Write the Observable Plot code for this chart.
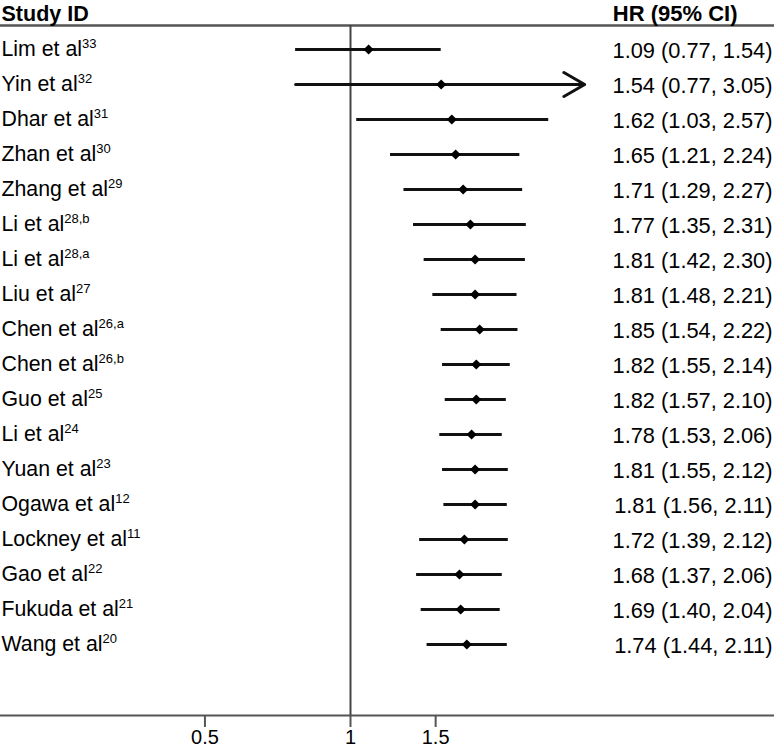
<!DOCTYPE html>
<html>
<head>
<meta charset="utf-8">
<script src="https://cdn.jsdelivr.net/npm/d3@7"></script>
<script src="https://cdn.jsdelivr.net/npm/@observablehq/plot@0.6"></script>
<style>
  html, body { margin: 0; padding: 0; background: #fff; }
  #chart svg { display: block; }
</style>
</head>
<body>
<div id="chart"></div>
<script>
// ---- data ----
const studyNames = ["Lim et al","Yin et al","Dhar et al","Zhan et al","Zhang et al","Li et al","Li et al","Liu et al","Chen et al","Chen et al","Guo et al","Li et al","Yuan et al","Ogawa et al","Lockney et al","Gao et al","Fukuda et al","Wang et al"];
const refs = ["33","32","31","30","29","28,b","28,a","27","26,a","26,b","25","24","23","12","11","22","21","20"];
const hr = [1.09,1.54,1.62,1.65,1.71,1.77,1.81,1.81,1.85,1.82,1.82,1.78,1.81,1.81,1.72,1.68,1.69,1.74];
const lo = [0.77,0.77,1.03,1.21,1.29,1.35,1.42,1.48,1.54,1.55,1.57,1.53,1.55,1.56,1.39,1.37,1.40,1.44];
const hi = [1.54,3.05,2.57,2.24,2.27,2.31,2.30,2.21,2.22,2.14,2.10,2.06,2.12,2.11,2.12,2.06,2.04,2.11];
const xTicks = [0.5, 1, 1.5];
const headerLeft = "Study ID";
const headerRight = "HR (95% CI)";

// ---- layout constants ----
const W = 774, H = 749;
const xOrigin = 350, pxPerLog = 210;   // pixel of HR=1, pixels per unit of ln(HR)
const xMax = 3;                          // display limit: CIs beyond it end in an arrow
const n = studyNames.length;
const rows = studyNames.map((name, i) => ({i, name, ref: refs[i], hr: hr[i], lo: lo[i], hi: hi[i]}));
const f2 = v => v.toFixed(2);
const font = "'Liberation Sans', Arial, Helvetica, sans-serif";

const svg = Plot.plot({
  width: W,
  height: H,
  marginLeft: 0,
  marginRight: 0,
  marginTop: 25,
  marginBottom: 34,
  style: {fontFamily: font, fontSize: "21px", color: "#000", background: "#fff"},
  x: {type: "log", domain: [xTicks[0], xTicks[2]],
      range: [xOrigin + pxPerLog * Math.log(xTicks[0]), xOrigin + pxPerLog * Math.log(xTicks[2])]},
  y: {type: "point", domain: d3.range(n), range: [48.5, 644.3], padding: 0, axis: null},
  marks: [
    Plot.frame({anchor: "top", stroke: "#555", strokeWidth: 2.5}),
    Plot.frame({anchor: "bottom", stroke: "#555", strokeWidth: 2}),
    Plot.ruleX([1], {stroke: "#444", strokeWidth: 2}),
    Plot.axisX({ticks: xTicks, tickFormat: d => String(d), tickSize: 12, tickPadding: 2,
                stroke: "#555", strokeWidth: 2, label: null, fill: "#000", fontSize: 20}),
    Plot.ruleY(rows.filter(d => d.hi <= xMax), {y: "i", x1: "lo", x2: "hi", stroke: "#111", strokeWidth: 3}),
    Plot.arrow(rows.filter(d => d.hi > xMax), {y: "i", x1: "lo", x2: "hi", stroke: "#111", strokeWidth: 3, headLength: 12}),
    Plot.dot(rows, {x: "hr", y: "i", symbol: "diamond2", r: 4.6, fill: "#000", stroke: null}),
    Plot.text(rows, {y: "i", frameAnchor: "left", textAnchor: "start", text: "name", dx: 1, fill: "#000",
                     fontSize: 21.3, ariaDescription: "study-label"}),
    Plot.text(rows, {y: "i", frameAnchor: "right", textAnchor: "end", dx: -2, dy: 2, fill: "#000", fontSize: 21.8,
                     text: d => `${f2(d.hr)} (${f2(d.lo)}, ${f2(d.hi)})`}),
    Plot.text([headerLeft], {frameAnchor: "top-left", textAnchor: "start", lineAnchor: "bottom", dx: 1, dy: -5,
                             fontWeight: "bold", fill: "#000", fontSize: 21.5}),
    Plot.text([headerRight], {frameAnchor: "top-right", textAnchor: "end", lineAnchor: "bottom", dx: -37, dy: -5,
                              fontWeight: "bold", fill: "#000", fontSize: 22})
  ]
});

// superscript reference numbers
const ns = "http://www.w3.org/2000/svg";
let labelTexts = svg.querySelectorAll('g[aria-description="study-label"] text');
labelTexts.forEach((t, j) => {
  const sup = document.createElementNS(ns, "tspan");
  sup.setAttribute("font-size", "13");
  sup.setAttribute("dy", "-8");
  sup.textContent = rows[j].ref;
  t.appendChild(sup);
});

document.getElementById("chart").appendChild(svg);
</script>
</body>
</html>
